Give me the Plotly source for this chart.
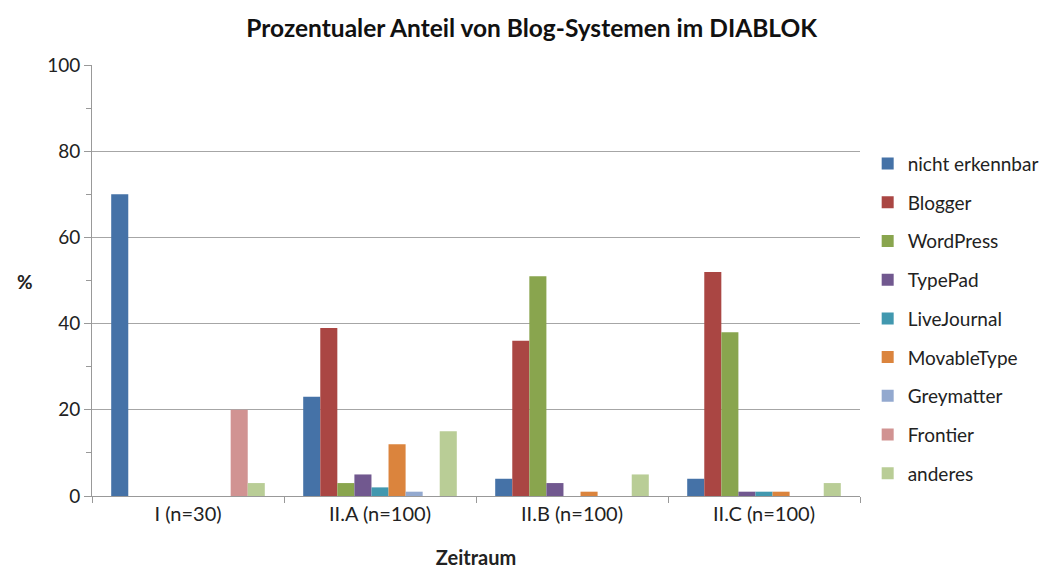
import plotly.graph_objects as go

categories = ["I (n=30)", "II.A (n=100)", "II.B (n=100)", "II.C (n=100)"]
series_names = ["nicht erkennbar", "Blogger", "WordPress", "TypePad", "LiveJournal",
                "MovableType", "Greymatter", "Frontier", "anderes"]
nicht_erkennbar = [70, 23, 4, 4]
blogger = [0, 39, 36, 52]
wordpress = [0, 3, 51, 38]
typepad = [0, 5, 3, 1]
livejournal = [0, 2, 0, 1]
movabletype = [0, 12, 1, 1]
greymatter = [0, 1, 0, 0]
frontier = [20, 0, 0, 0]
anderes = [3, 15, 5, 3]
values = [nicht_erkennbar, blogger, wordpress, typepad, livejournal,
          movabletype, greymatter, frontier, anderes]
colors = ["#4572A7", "#AA4643", "#89A54E", "#71588F", "#4198AF",
          "#DB843D", "#93A9CF", "#D19392", "#B9CD96"]

FONT = "Lato, 'Open Sans', sans-serif"

fig = go.Figure()
for name, vals, col in zip(series_names, values, colors):
    fig.add_trace(go.Bar(name=name, x=categories, y=vals, marker_color=col,
                         marker_line_width=0, legendgroup=name))

fig.update_layout(
    width=1058, height=570,
    margin=dict(l=84, r=206, t=57, b=82, autoexpand=False),
    paper_bgcolor="white", plot_bgcolor="white",
    barmode="group", bargap=0.2, bargroupgap=0,
    font=dict(family=FONT, size=19, color="#222222"),
    title=dict(text="<b>Prozentualer Anteil von Blog-Systemen im DIABLOK</b>",
               x=0.495, xanchor="center", y=0.965, yanchor="middle",
               font=dict(size=24.5, family=FONT, color="#111111")),
    legend=dict(x=1.010, xanchor="left", y=0.815, yanchor="top",
                font=dict(size=19, family=FONT), tracegroupgap=11,
                itemclick=False),
    showlegend=True,
)
fig.update_xaxes(
    title=dict(text="<b>Zeitraum</b>", font=dict(size=20), standoff=26),
    showline=True, linecolor="#999999", linewidth=1,
    ticks="outside", tickson="boundaries", ticklen=6, tickcolor="#999999",
    showgrid=False, tickfont=dict(size=20),
)
fig.update_yaxes(
    range=[0, 100], dtick=20, tick0=0,
    showline=True, linecolor="#999999", linewidth=1,
    ticks="outside", ticklen=7, tickcolor="#999999",
    showgrid=True, gridcolor="#A6A6A6", gridwidth=1,
    zeroline=False, tickfont=dict(size=19),
    minor=dict(dtick=10, ticks="outside", ticklen=5, tickcolor="#999999", showgrid=False),
)
fig.add_annotation(text="<b>%</b>", xref="paper", yref="paper", x=-0.087, y=0.497,
                   showarrow=False, font=dict(size=19, family=FONT), xanchor="center")
fig.write_html("out.html")
